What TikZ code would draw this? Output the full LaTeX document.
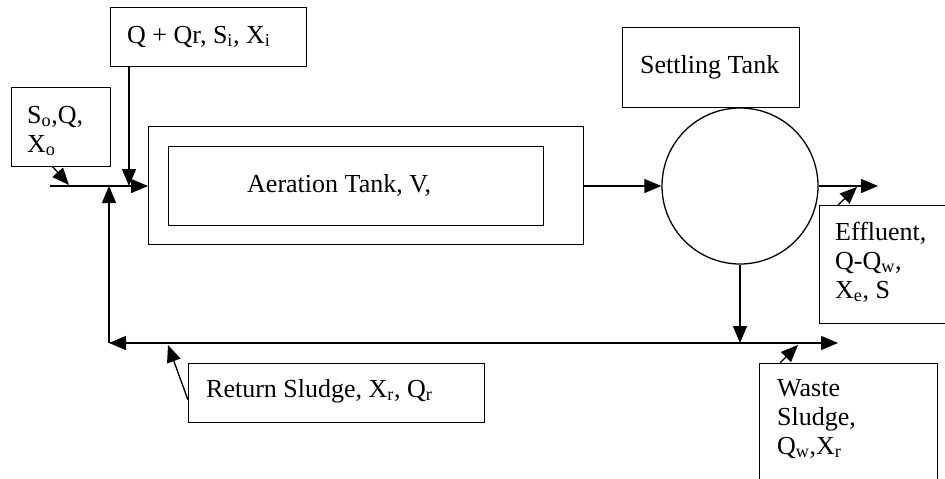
\documentclass[tikz,border=0pt]{standalone}
\usepackage{fontspec}
\setmainfont{Liberation Serif}
\usetikzlibrary{arrows.meta}
\begin{document}
\begin{tikzpicture}[x=1pt,y=-1pt,
  box/.style={draw,line width=1.3pt,inner sep=0pt,anchor=north west},
  txt/.style={anchor=base west,inner sep=0pt,font=\fontsize{26}{29}\selectfont,align=left},
  conn/.style={line width=1.3pt,-{Triangle[length=17pt,width=14pt]}}]
\useasboundingbox (0,0) rectangle (945,479);
\clip (0,0) rectangle (945,479);
% boxes
\node[box,minimum width=196pt,minimum height=59pt] (qbox) at (110,7) {};
\node[box,minimum width=99pt,minimum height=79pt] (sbox) at (11,87) {};
\node[box,minimum width=435pt,minimum height=118pt] (aer) at (148,126) {};
\node[box,minimum width=375pt,minimum height=79pt] (aerin) at (168,146) {};
\node[box,minimum width=177pt,minimum height=80pt] (stbox) at (622,27) {};
\node[draw,line width=1.3pt,circle,minimum size=156pt,inner sep=0pt] (tank) at (740,186) {};
\node[box,minimum width=140pt,minimum height=118pt] (ebox) at (819,205) {};
\node[box,minimum width=296pt,minimum height=59pt] (rbox) at (188,363) {};
\node[box,minimum width=178pt,minimum height=130pt] (wbox) at (759,363) {};
% texts (multi-line: base = last line)
\node[txt] (qtxt) at (127,43) {Q + Qr, S\textsubscript{i}, X\textsubscript{i}};
\node[txt] (stxt) at (27,152) {S\textsubscript{o},Q,\\X\textsubscript{o}};
\node[txt] (atxt) at (247,192) {Aeration Tank, V,};
\node[txt] (sttxt) at (640,73) {Settling Tank};
\node[txt] (etxt) at (835,298) {Effluent,\\Q-Q\textsubscript{w},\\X\textsubscript{e}, S};
\node[txt] (rtxt) at (206,397) {Return Sludge, X\textsubscript{r}, Q\textsubscript{r}};
\node[txt] (wtxt) at (777,454) {Waste\\Sludge,\\Q\textsubscript{w},X\textsubscript{r}};
% coordinates
\coordinate (feedL) at (50,186);
\coordinate (qdrop) at (129,186);
\coordinate (retUp) at (109,186);
\coordinate (retL) at (109,343);
\coordinate (retR) at (838,343);
\coordinate (retJ) at (740,343);
\coordinate (effR) at (878,186);
% connectors
\draw[conn] (feedL) -- (aer.west |- feedL);
\draw[conn] (52,166) -- (69,185);
\draw[conn] (qbox.south -| qdrop) -- (qdrop);
\draw[conn] (retL) -- (retUp);
\draw[line width=1.3pt,{Triangle[length=17pt,width=14pt]}-{Triangle[length=17pt,width=14pt]}] (retL) -- (retR);
\draw[conn] (188,400) -- (168,345);
\draw[conn] (aer.east |- tank.west) -- (tank.west);
\draw[conn] (tank.east) -- (effR);
\draw[conn] (838,205) -- (857,187);
\draw[conn] (tank.south) -- (retJ);
\draw[conn] (780,363) -- (798,345);
\end{tikzpicture}
\end{document}
